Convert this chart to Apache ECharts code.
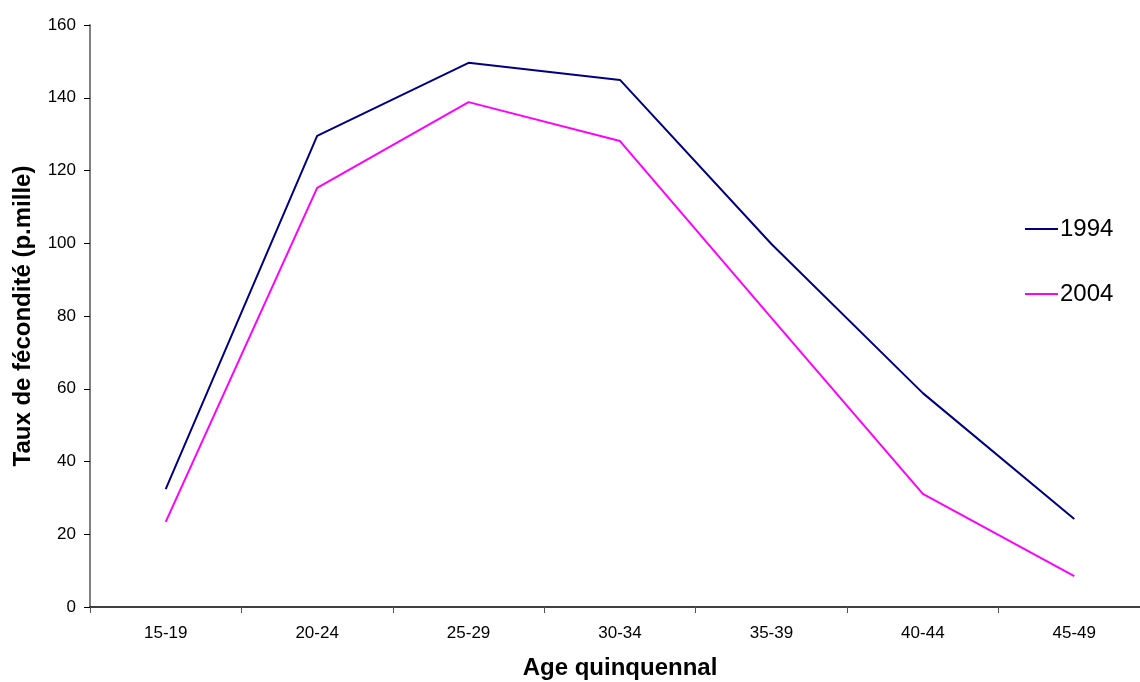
<!DOCTYPE html>
<html><head><meta charset="utf-8">
<script src="https://cdn.jsdelivr.net/npm/echarts@6/dist/echarts.min.js"></script>
<style>html,body{margin:0;padding:0;background:#fff}#c{width:1140px;height:682px}</style>
</head><body><div id="c"></div>
<script>
const categories = ['15-19','20-24','25-29','30-34','35-39','40-44','45-49'];
const s1994 = [32.4, 129.5, 149.6, 144.9, 99.8, 58.8, 24.2];
const s2004 = [23.4, 115.2, 138.8, 128.1, 79.5, 31.1, 8.5];
const chart = echarts.init(document.getElementById('c'));
const font = 'Liberation Sans, Arial, sans-serif';
chart.setOption({
  animation: false,
  textStyle: {fontFamily: font},
  grid: {left: 90, top: 25, bottom: 75, width: 1060, containLabel: false, outerBoundsMode: 'none'},
  legend: {
    orient: 'vertical', left: 1020, top: 212, itemWidth: 33, itemHeight: 14, itemGap: 41,
    icon: 'path://M0,6 L33,6 L33,8 L0,8 Z',
    textStyle: {fontSize: 24, color: '#000', fontFamily: font, padding: [0,0,0,-3]},
    data: ['1994','2004']
  },
  xAxis: {
    type: 'category', data: categories, boundaryGap: true,
    name: 'Age quinquennal', nameLocation: 'middle', nameGap: 49,
    nameTextStyle: {fontSize: 24, fontWeight: 'bold', color: '#000'},
    axisLine: {lineStyle: {color: '#000', width: 1.5}},
    axisTick: {show: true, length: 6, lineStyle: {color: '#555'}},
    axisLabel: {fontSize: 17, color: '#000', margin: 18}
  },
  yAxis: {
    type: 'value', min: 0, max: 160, interval: 20,
    name: 'Taux de fécondité (p.mille)', nameLocation: 'middle', nameGap: 55, nameRotate: 90,
    nameTextStyle: {fontSize: 24, fontWeight: 'bold', color: '#000'},
    axisLine: {show: true, lineStyle: {color: '#808080', width: 2}},
    axisTick: {show: true, length: 6, lineStyle: {color: '#000'}},
    splitLine: {show: false},
    axisLabel: {fontSize: 17, color: '#000', margin: 14}
  },
  series: [
    {name: '1994', type: 'line', data: s1994, symbol: 'none', lineStyle: {color: '#000080', width: 2}, itemStyle: {color: '#000080'}},
    {name: '2004', type: 'line', data: s2004, symbol: 'none', lineStyle: {color: '#FF00FF', width: 2}, itemStyle: {color: '#FF00FF'}}
  ]
});
</script></body></html>
